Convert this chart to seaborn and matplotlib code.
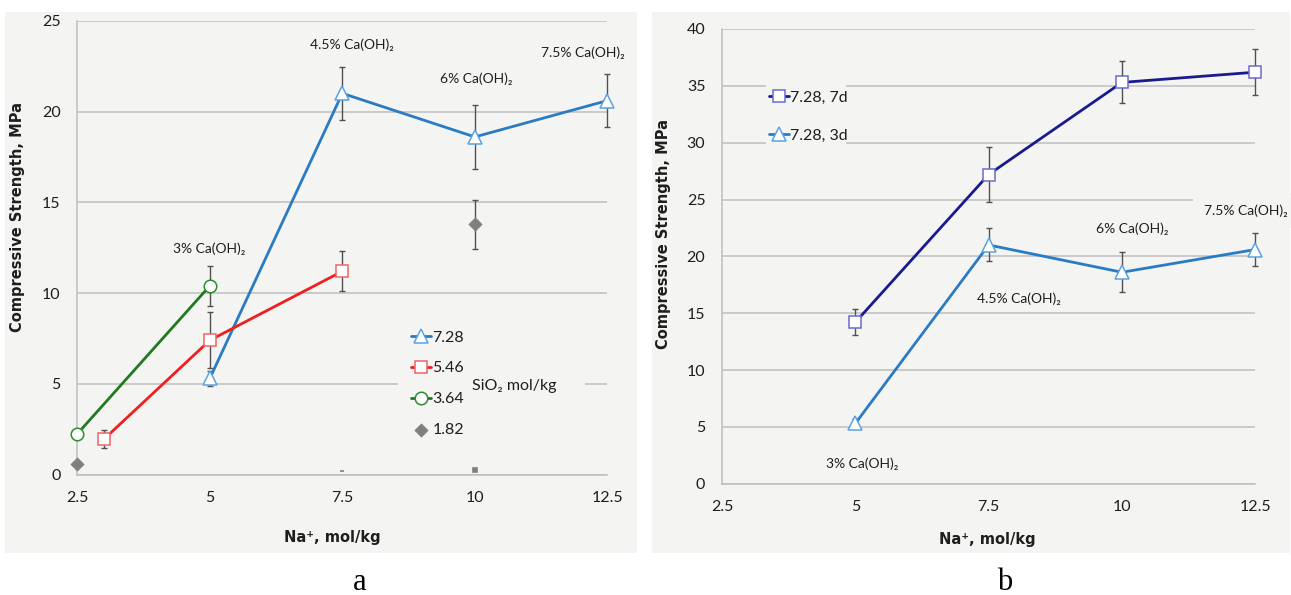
import matplotlib
matplotlib.use("Agg")
import matplotlib.pyplot as plt
import seaborn as sns
from matplotlib.patches import Rectangle

# ---------------- data ----------------
x_ticks = [2.5, 5, 7.5, 10, 12.5]
x_tick_labels = ["2.5", "5", "7.5", "10", "12.5"]
y_ticks_a = [0, 5, 10, 15, 20, 25]
y_ticks_b = [0, 5, 10, 15, 20, 25, 30, 35, 40]

# panel a : SiO2 mol/kg series
na_728 = [5, 7.5, 10, 12.5]
cs_728 = [5.3, 21.0, 18.6, 20.6]
err_728 = [0.4, 1.45, 1.75, 1.45]

na_546 = [3, 5, 7.5]
cs_546 = [1.95, 7.4, 11.2]
err_546 = [0.5, 1.55, 1.1]

na_364 = [2.5, 5]
cs_364 = [2.25, 10.4]
err_364 = [0.0, 1.1]

na_182 = [2.5, 10]
cs_182 = [0.57, 13.8]
err_182 = [0.0, 1.35]

na_tiny = [7.5, 10]
cs_tiny = [0.2, 0.28]

# panel b : 7.28 mol/kg SiO2, 7 d and 3 d
na_b = [5, 7.5, 10, 12.5]
cs_7d = [14.2, 27.2, 35.3, 36.2]
err_7d = [1.15, 2.4, 1.85, 2.05]
cs_3d = [5.3, 21.0, 18.6, 20.6]
err_3d = [0.4, 1.45, 1.75, 1.45]

ca_labels = ["3% Ca(OH)₂", "4.5% Ca(OH)₂", "6% Ca(OH)₂", "7.5% Ca(OH)₂"]
legend_a = ["7.28", "5.46", "3.64", "1.82"]
legend_b = ["7.28, 7d", "7.28, 3d"]

# ---------------- style ----------------
sns.set_theme(style="white")
plt.rcParams["font.family"] = ["Lato", "DejaVu Sans"]
plt.rcParams["axes.axisbelow"] = True

PANEL = "#F4F5F3"
GRID = "#BEBEBE"
TXT = "#1E1E1E"
ERR = "#505050"
BLUE, BLUE_E = "#2A7BC4", "#5AA2E2"
RED, RED_E = "#F01E1E", "#F06464"
GREEN, GREEN_E = "#1F7A1F", "#2E8B2E"
GREY = "#7F7F7F"
NAVY, NAVY_E = "#1A1A8E", "#6A6AD2"

fig = plt.figure(figsize=(12.91, 5.95), dpi=100)
W, H = 1291, 595

# panel backgrounds
fig.patches.append(Rectangle((5 / W, 1 - 553 / H), 632 / W, 541 / H,
                             transform=fig.transFigure, facecolor=PANEL,
                             edgecolor="none", zorder=-5))
fig.patches.append(Rectangle((652 / W, 1 - 553 / H), 638 / W, 541 / H,
                             transform=fig.transFigure, facecolor=PANEL,
                             edgecolor="none", zorder=-5))

axA = fig.add_axes([77.3 / W, 1 - 474.7 / H, 530 / W, 454 / H])
axB = fig.add_axes([722 / W, 1 - 483.7 / H, 533.3 / W, 454.7 / H])


def style_axes(ax, yticks, ymax):
    ax.set_facecolor("none")
    ax.patch.set_alpha(0)
    ax.set_xlim(2.5, 12.5)
    ax.set_ylim(0, ymax)
    ax.set_xticks(x_ticks)
    ax.set_xticklabels(x_tick_labels)
    ax.set_yticks(yticks)
    ax.set_yticklabels([str(v) for v in yticks])
    ax.grid(axis="y", color=GRID, linewidth=1.1)
    ax.grid(axis="x", visible=False)
    for s in ["top", "right"]:
        ax.spines[s].set_visible(False)
    for s in ["left", "bottom"]:
        ax.spines[s].set_color(GRID)
        ax.spines[s].set_linewidth(1.1)
    ax.tick_params(axis="both", direction="out", length=4, width=1,
                   color=GRID, pad=8, labelsize=11.5, labelcolor=TXT)
    ax.set_ylabel("Compressive Strength, MPa", family="DejaVu Sans",
                  weight="bold", size=10.5, color=TXT)
    ax.set_xlabel("Na⁺, mol/kg", family="DejaVu Sans", weight="bold",
                  size=10.5, color=TXT)


def series(ax, x, y, err, color, ecolor, marker, ms):
    sns.lineplot(x=x, y=y, ax=ax, color=color, linewidth=2, marker=marker,
                 markersize=ms, markerfacecolor="white",
                 markeredgecolor=ecolor, markeredgewidth=1.1, zorder=3)
    h = ax.lines[-1]
    ax.errorbar(x, y, yerr=err, fmt="none", ecolor=ERR, elinewidth=1,
                capsize=2.5, capthick=1, zorder=2)
    return h


def unclip(ax):
    for art in list(ax.lines) + list(ax.collections):
        art.set_clip_on(False)


# ---------------- panel a ----------------
style_axes(axA, y_ticks_a, 25)
hA = []
hA.append(series(axA, na_728, cs_728, err_728, BLUE, BLUE_E, "^", 10))
hA.append(series(axA, na_546, cs_546, err_546, RED, RED_E, "s", 8))
hA.append(series(axA, na_364, cs_364, err_364, GREEN, GREEN_E, "o", 9))
sns.scatterplot(x=na_182, y=cs_182, ax=axA, marker="D", s=45, color=GREY,
                edgecolor=GREY, zorder=3)
hA.append(axA.collections[-1])
axA.errorbar(na_182, cs_182, yerr=err_182, fmt="none", ecolor=ERR,
             elinewidth=1, capsize=2.5, capthick=1, zorder=2)
for xm, ym, mk in zip(na_tiny, cs_tiny, ["_", "s"]):
    axA.plot([xm], [ym], linestyle="none", marker=mk, markersize=3,
             color=GREY, markeredgewidth=1.2, zorder=3)
unclip(axA)

axA.yaxis.set_label_coords(-0.098, 0.568)
axA.xaxis.set_label_coords(0.482, -0.122)

# cover gridline behind legend
axA.add_patch(Rectangle((0.605, 0.065), 0.353, 0.287, transform=axA.transAxes,
                        facecolor=PANEL, edgecolor="none", zorder=1))
legA = axA.legend(hA, legend_a, loc="upper left", bbox_to_anchor=(0.629, 0.318),
                  frameon=False, handlelength=1.25, handletextpad=0.1,
                  labelspacing=1.05, borderpad=0, borderaxespad=0,
                  prop={"family": "Lato", "size": 11.5})
for t in legA.get_texts():
    t.set_color(TXT)
axA.text(0.824, 0.195, "SiO₂ mol/kg", transform=axA.transAxes, ha="center",
         va="center", size=11.5, color=TXT, family=["Lato", "DejaVu Sans"])

lab_pos_a = [(4.99, 12.43), (7.68, 23.7), (10.02, 21.79), (12.04, 23.26)]
for (lx, ly), lab in zip(lab_pos_a, ca_labels):
    axA.text(lx, ly, lab, ha="center", va="center", size=10, color=TXT,
             family=["Lato", "DejaVu Sans"])

# ---------------- panel b ----------------
style_axes(axB, y_ticks_b, 40)
hB = []
hB.append(series(axB, na_b, cs_7d, err_7d, NAVY, NAVY_E, "s", 8))
hB.append(series(axB, na_b, cs_3d, err_3d, BLUE, BLUE_E, "^", 10))
unclip(axB)

axB.yaxis.set_label_coords(-0.0956, 0.549)
axB.xaxis.set_label_coords(0.498, -0.106)

axB.add_patch(Rectangle((0.0825, 0.734), 0.15, 0.165, transform=axB.transAxes,
                        facecolor=PANEL, edgecolor="none", zorder=1))
legB = axB.legend(hB, legend_b, loc="upper left", bbox_to_anchor=(0.088, 0.865),
                  frameon=False, handlelength=1.25, handletextpad=0.1,
                  labelspacing=1.5, borderpad=0, borderaxespad=0,
                  prop={"family": "Lato", "size": 11.5})
for t in legB.get_texts():
    t.set_color(TXT)

lab_pos_b = [(5.125, 1.79), (8.06, 16.3), (10.2, 22.4), (12.33, 24.0)]
for i, ((lx, ly), lab) in enumerate(zip(lab_pos_b, ca_labels)):
    kw = {}
    if i == 3:
        kw["bbox"] = dict(boxstyle="square,pad=0.8", facecolor=PANEL,
                          edgecolor="none")
    axB.text(lx, ly, lab, ha="center", va="center", size=10, color=TXT,
             family=["Lato", "DejaVu Sans"], clip_on=False, zorder=1.5, **kw)

# panel captions
fig.text(360 / W, 1 - 582 / H, "a", ha="center", va="center",
         family="Liberation Serif", size=22, color="black")
fig.text(1005 / W, 1 - 582 / H, "b", ha="center", va="center",
         family="Liberation Serif", size=22, color="black")

fig.savefig("out.png", dpi=100)
